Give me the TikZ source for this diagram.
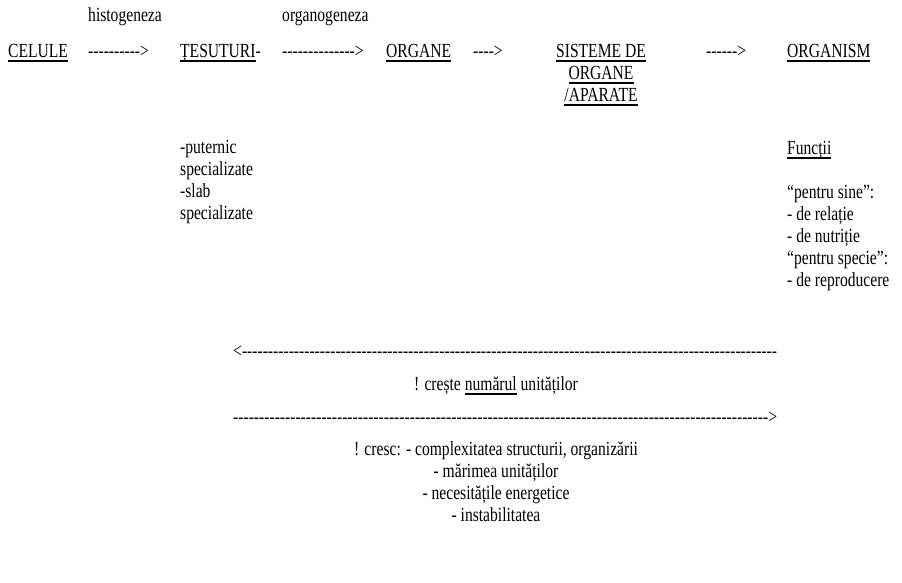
\documentclass[tikz,border=0pt]{standalone}
\usepackage{fontspec}
\setmainfont{Liberation Serif}[FakeStretch=0.78, Ligatures=TeXOff]
\newcommand{\undl}[1]{\setbox0=\hbox{#1}\rlap{\rule[-4.5pt]{\wd0}{1.3pt}}\box0\relax}
\newcommand{\dashes}[1]{\foreach \k in {1,...,#1}{-}}
\begin{document}
\begin{tikzpicture}[x=1pt, y=-1pt,
  every node/.style={font=\fontsize{20}{22}\selectfont, inner sep=0pt},
  txt/.style={anchor=base west},
  col/.style={anchor=north west, align=left},
  mid/.style={anchor=north, align=center}]
\useasboundingbox (0,0) rectangle (902,582);
% first row
\node[txt] (celule) at (8,57) {\undl{CELULE}};
\node[txt] (histo) at (88,21) {histogeneza};
\node[txt] (arr1) at (88,57) {\dashes{10}>};
\node[txt] (tesut) at (180,57) {\undl{ȚESUTURI}-};
\node[txt] (organo) at (282,21) {organogeneza};
\node[txt] (arr2) at (282,57) {\dashes{14}>};
\node[txt] (organe) at (386,57) {\undl{ORGANE}};
\node[txt] (arr3) at (473,57) {\dashes{4}>};
\node[mid] (sist) at (601,57-15.4) {\strut\undl{SISTEME DE}\\\undl{ORGANE}\\\undl{/APARATE}};
\node[txt] (arr4) at (706,57) {\dashes{6}>};
\node[txt] (organism) at (787,57) {\undl{ORGANISM}};
% columns
\node[col] (tipuri) at (180,153-15.4) {\strut-puternic\\specializate\\-slab\\specializate};
\node[col] (functii) at (787,154-15.4) {\strut\undl{Funcții}\\[22pt]“pentru sine”:\\- de relație\\- de nutriție\\“pentru specie”:\\- de reproducere};
% bottom
\node[txt] (stanga) at (233,357) {<\dashes{103}};
\node[anchor=base] (numar) at (496,390) {! crește \undl{numărul} unităților};
\node[txt] (dreapta) at (233,423) {\dashes{103}>};
\node[mid] (cresc) at (496,455-15.4) {\strut! cresc: - complexitatea structurii, organizării\\- mărimea unităților\\- necesitățile energetice\\- instabilitatea};
\end{tikzpicture}
\end{document}
